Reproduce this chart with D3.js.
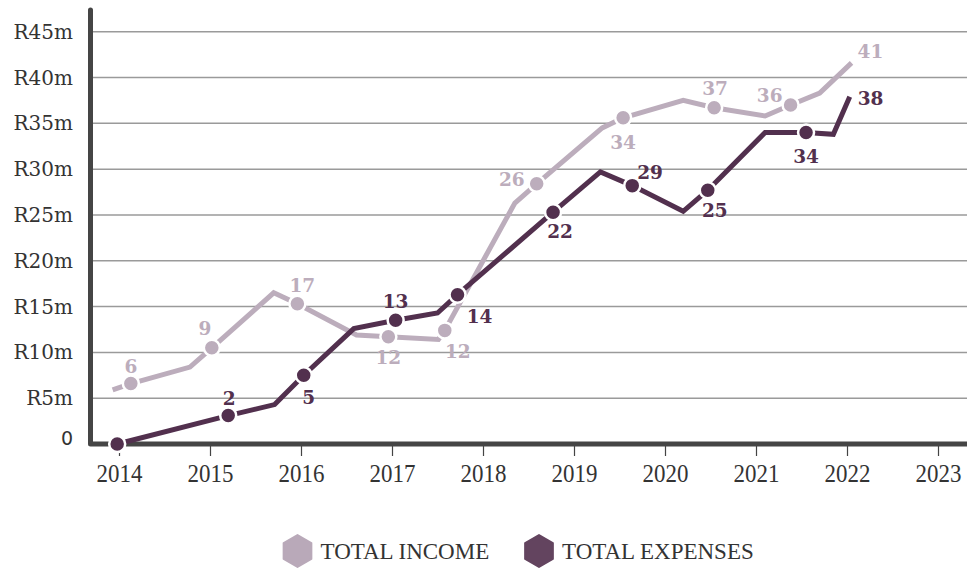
<!DOCTYPE html>
<html>
<head>
<meta charset="utf-8">
<script src="https://cdn.jsdelivr.net/npm/d3@7"></script>
<style>
  body { margin: 0; background: #fff; }
</style>
</head>
<body>
<script>
var w = 967;
var h = 568;

// years on the x axis
var yearTicks = [2014, 2015, 2016, 2017, 2018, 2019, 2020, 2021, 2022, 2023];
var valueTicks = [0, 5, 10, 15, 20, 25, 30, 35, 40, 45];
var valueTickLabels = ["0", "R5m", "R10m", "R15m", "R20m", "R25m", "R30m", "R35m", "R40m", "R45m"];

// total income (R million); "" = marker without label, null = plain vertex
var incomeYears  = [2013.93, 2014.13, 2014.78, 2015.02, 2015.70, 2015.96, 2016.61, 2016.96, 2017.51, 2017.58,
                    2018.35, 2018.59, 2019.31, 2019.54, 2020.20, 2020.54, 2021.10, 2021.38, 2021.70, 2022.05];
var incomeValues = [5.9, 6.6, 8.4, 10.5, 16.5, 15.3, 11.9, 11.7, 11.4, 12.4,
                    26.3, 28.4, 34.5, 35.6, 37.5, 36.7, 35.8, 37.0, 38.3, 41.6];
var incomeLabels = [null, "6", null, "9", null, "17", null, "12", null, "12",
                    null, "26", null, "34", null, "37", null, "36", null, "41"];

// total expenses (R million)
var expenseYears  = [2013.98, 2015.20, 2015.71, 2016.03, 2016.58, 2017.04, 2017.50, 2017.72, 2018.77,
                     2019.29, 2019.64, 2020.20, 2020.47, 2021.10, 2021.55, 2021.85, 2022.03];
var expenseValues = [0, 3.1, 4.3, 7.5, 12.6, 13.5, 14.3, 16.3, 25.3,
                     29.7, 28.2, 25.4, 27.7, 34.0, 34.0, 33.8, 37.9];
var expenseLabels = ["", "2", null, "5", null, "13", null, "14", "22",
                     null, "29", null, "25", null, "34", null, "38"];

var seriesNames = ["TOTAL INCOME", "TOTAL EXPENSES"];
var seriesColors = ["#bcadbc", "#52304e"];

// label nudges from their point [dx, dy, anchor]
var incomeNudge = {1: [0, -11, "middle"], 3: [-7, -13, "middle"], 5: [5, -12, "middle"], 7: [0, 27, "middle"],
                   9: [13, 28, "middle"], 11: [-12, 2, "end"], 13: [0, 31, "middle"], 15: [1, -13, "middle"],
                   17: [-8, -3, "end"], 19: [6, -5, "start"]};
var expenseNudge = {1: [1, -11, "middle"], 3: [5, 29, "middle"], 5: [0, -12, "middle"], 7: [22, 28, "middle"],
                    8: [7, 26, "middle"], 10: [5, -7, "start"], 12: [7, 27, "middle"], 14: [0, 31, "middle"],
                    16: [8, 8, "start"]};

var svg = d3.select("body").append("svg")
  .attr("width", w)
  .attr("height", h);

var x = d3.scaleLinear().domain([2014, 2023]).range([119, 938]);
var y = d3.scaleLinear().domain([0, 45]).range([444, 31.7]);

// gridlines
svg.append("g")
  .selectAll("line")
  .data(valueTicks.slice(1))
  .enter()
  .append("line")
  .attr("x1", 93).attr("x2", w)
  .attr("y1", function(d) { return y(d); })
  .attr("y2", function(d) { return y(d); })
  .attr("stroke", "#9a9a9a")
  .attr("stroke-width", 1.5);

// y labels
svg.append("g")
  .selectAll("text")
  .data(valueTicks)
  .enter()
  .append("text")
  .attr("x", 73)
  .attr("y", function(d) { return d === 0 ? y(d) + 1 : y(d) + 7; })
  .attr("text-anchor", "end")
  .attr("font-family", function(d) { return d === 0 ? "DejaVu Sans" : "DejaVu Serif"; })
  .attr("font-size", function(d) { return d === 0 ? 19 : 20; })
  .attr("fill", "#333")
  .text(function(d, i) { return valueTickLabels[i]; });

// x axis
var xAxis = d3.axisBottom(x)
  .tickValues(yearTicks)
  .tickFormat(d3.format("d"))
  .tickSize(11)
  .tickPadding(8);

var gx = svg.append("g")
  .attr("transform", "translate(0,445)")
  .call(xAxis);
gx.select(".domain").remove();
gx.selectAll(".tick line").attr("stroke", "#444").attr("stroke-width", 1.2);
gx.selectAll(".tick text")
  .attr("font-family", "Liberation Serif")
  .attr("font-size", 25.5)
  .attr("fill", "#333")
  .attr("transform", "scale(0.9,1)");

// thick axis lines
svg.append("path")
  .attr("d", "M90.5,10 L90.5,444 L" + w + ",444")
  .attr("fill", "none")
  .attr("stroke", "#454545")
  .attr("stroke-width", 5)
  .attr("stroke-linecap", "round")
  .attr("stroke-linejoin", "round");

var line = d3.line()
  .x(function(d) { return x(d[0]); })
  .y(function(d) { return y(d[1]); });

function drawSeries(years, values, labels, nudge, color) {
  var pts = years.map(function(yr, i) { return [yr, values[i], labels[i], i]; });
  svg.append("path")
    .datum(pts)
    .attr("d", line)
    .attr("fill", "none")
    .attr("stroke", color)
    .attr("stroke-width", 5)
    .attr("stroke-linejoin", "miter");

  var marked = pts.filter(function(d, i) { return d[2] !== null && i !== pts.length - 1; });
  svg.append("g")
    .selectAll("circle")
    .data(marked)
    .enter()
    .append("circle")
    .attr("cx", function(d) { return x(d[0]); })
    .attr("cy", function(d) { return y(d[1]); })
    .attr("r", 8)
    .attr("fill", color)
    .attr("stroke", "#fff")
    .attr("stroke-width", 2.5);

  svg.append("g")
    .selectAll("text")
    .data(pts.filter(function(d) { return d[2]; }))
    .enter()
    .append("text")
    .attr("x", function(d) { return x(d[0]) + nudge[d[3]][0]; })
    .attr("y", function(d) { return y(d[1]) + nudge[d[3]][1]; })
    .attr("text-anchor", function(d) { return nudge[d[3]][2]; })
    .attr("font-family", "DejaVu Serif")
    .attr("font-weight", "bold")
    .attr("font-size", 18.5)
    .attr("fill", color)
    .text(function(d) { return d[2]; });
}

drawSeries(incomeYears, incomeValues, incomeLabels, incomeNudge, seriesColors[0]);
drawSeries(expenseYears, expenseValues, expenseLabels, expenseNudge, seriesColors[1]);

// legend
var legendX = [297.5, 539];
var hex = d3.range(6).map(function(k) {
  var a = Math.PI / 3 * k - Math.PI / 2;
  return [16 * Math.cos(a), 16 * Math.sin(a)];
});
var legend = svg.append("g")
  .selectAll("g")
  .data(seriesNames)
  .enter()
  .append("g")
  .attr("transform", function(d, i) { return "translate(" + legendX[i] + ",551)"; });
legend.append("path")
  .attr("d", "M" + hex.join("L") + "Z")
  .attr("fill", function(d, i) { return i === 0 ? "#b9a9b9" : "#63445f"; })
  .attr("stroke", function(d, i) { return i === 0 ? "#b9a9b9" : "#63445f"; })
  .attr("stroke-width", 2)
  .attr("stroke-linejoin", "round");
legend.append("text")
  .attr("x", 23)
  .attr("y", 8)
  .attr("font-family", "Liberation Serif")
  .attr("font-size", 23)
  .attr("fill", "#333")
  .text(function(d) { return d; });
</script>
</body>
</html>
